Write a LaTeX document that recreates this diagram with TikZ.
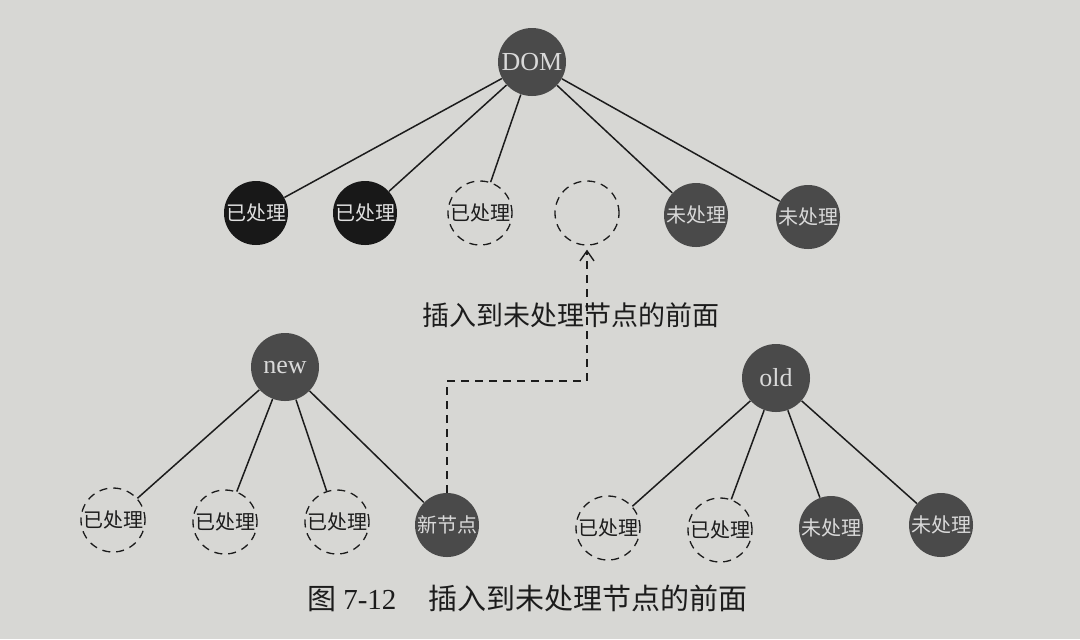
\documentclass[tikz,border=0pt]{standalone}
\usepackage{fontspec}
\setmainfont{Liberation Serif}
\newfontfamily\cjk{Noto Sans CJK SC}
\usetikzlibrary{arrows.meta}
\definecolor{paper}{RGB}{215,215,212}
\definecolor{darkfill}{RGB}{24,24,24}
\definecolor{grayfill}{RGB}{74,74,74}
\definecolor{ink}{RGB}{28,28,28}
\tikzset{
  tnode/.style={circle,minimum size=32pt,inner sep=0pt,font=\cjk\fontsize{10}{12}\selectfont},
  blacknode/.style={tnode,fill=darkfill,text=white!88!black},
  graynode/.style={tnode,fill=grayfill,text=white!85!black},
  dashnode/.style={tnode,draw=ink,line width=0.65pt,dash pattern=on 4pt off 3pt,text=ink},
  rootnode/.style={circle,minimum size=34pt,inner sep=0pt,fill=grayfill,text=white!85!black,font=\fontsize{13}{15}\selectfont},
  edge/.style={draw=ink,line width=0.75pt},
  insert/.style={draw=ink,line width=0.7pt,dash pattern=on 4pt off 3pt,-{Straight Barb[length=5pt,width=7pt]},shorten >=2pt}
}
\begin{document}
\begin{tikzpicture}[x=0.5pt,y=-0.5pt]
\fill[paper] (0,0) rectangle (1080,639);
\useasboundingbox (0,0) rectangle (1080,639);
% top tree
\node[rootnode] (dom) at (532,62) {DOM};
\node[blacknode] (t1) at (256,213) {已处理};
\node[blacknode] (t2) at (365,213) {已处理};
\node[dashnode] (t3) at (480,213) {已处理};
\node[dashnode] (t4) at (587,213) {};
\node[graynode] (t5) at (696,215) {未处理};
\node[graynode] (t6) at (808,217) {未处理};
\foreach \c in {t1,t2,t3,t5,t6} \draw[edge] (dom) -- (\c);
% new tree
\node[rootnode] (new) at (285,367) {new};
\node[dashnode] (n1) at (113,520) {已处理};
\node[dashnode] (n2) at (225,522) {已处理};
\node[dashnode] (n3) at (337,522) {已处理};
\node[graynode] (n4) at (447,525) {新节点};
\foreach \c in {n1,n2,n3,n4} \draw[edge] (new) -- (\c);
% old tree
\node[rootnode] (old) at (776,378) {old};
\node[dashnode] (o1) at (608,528) {已处理};
\node[dashnode] (o2) at (720,530) {已处理};
\node[graynode] (o3) at (831,528) {未处理};
\node[graynode] (o4) at (941,525) {未处理};
\foreach \c in {o1,o2,o3,o4} \draw[edge] (old) -- (\c);
% insertion arrow
\coordinate (turn) at (587,381);
\draw[insert] (n4.north) |- (turn) -- (t4.south);
\node[font=\cjk\fontsize{13.5}{16}\selectfont,text=ink] (lbl) at (571,315) {插入到未处理节点的前面};
% caption
\node[font=\fontsize{14.5}{17}\selectfont,text=ink,anchor=west] (cap) at (300,598) {{\cjk 图} 7-12\hspace{1.1em}{\cjk 插入到未处理节点的前面}};
\end{tikzpicture}
\end{document}
